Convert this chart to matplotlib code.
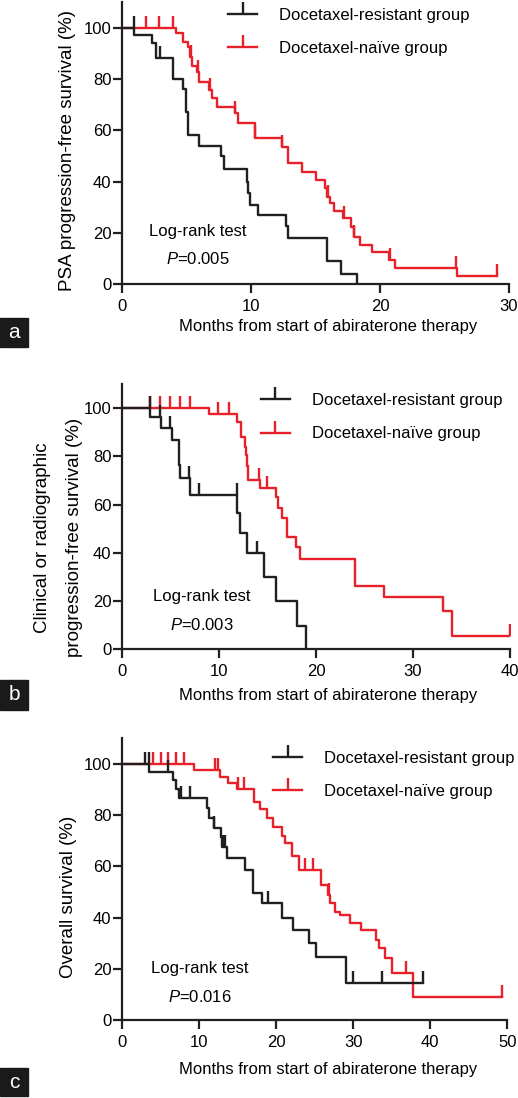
import numpy as np
import matplotlib.pyplot as plt
from matplotlib.lines import Line2D
from matplotlib.patches import Rectangle

plt.rcParams['font.family'] = ['Liberation Sans', 'DejaVu Sans']
plt.rcParams['mathtext.fontset'] = 'custom'
plt.rcParams['mathtext.it'] = 'Liberation Sans:italic'
plt.rcParams['mathtext.rm'] = 'Liberation Sans'

BLACK = '#231f20'
RED = '#e8202a'
FS = 12

# panel a: PSA progression-free survival
a_res_t = [0, 0.95, 2.3, 2.6, 3.95, 4.75, 4.95, 5.15, 6.0, 7.67, 7.9, 9.66, 9.75, 9.9, 10.57, 12.7, 12.9, 15.87, 16.95, 18.19]
a_res_s = [100, 97, 94, 88, 80, 76, 67, 58, 54, 50, 45, 40, 35.5, 31, 27, 22.5, 18, 9, 4, 0]
a_res_cens = [0.9, 2.95]
a_nai_t = [0, 4.2, 4.7, 5.15, 5.3, 5.45, 5.8, 6.0, 6.77, 7.0, 7.34, 8.76, 9.0, 10.31, 12.38, 12.9, 13.93, 15.04,
           15.74, 15.9, 16.12, 16.4, 17.15, 17.73, 18.0, 18.45, 19.35, 20.72, 21.16, 25.94, 29.04]
a_nai_s = [100, 97.8, 94.5, 92.6, 88.7, 85.2, 82.8, 78.9, 75.7, 72.4, 69.2, 66.6, 62.7, 56.8, 53.6, 47.1, 43.8, 40.6,
           37.3, 34.0, 31.5, 28.5, 25.6, 22.4, 18.5, 15.2, 12.6, 9.4, 6.1, 3.1, 3.1]
a_nai_cens = [1.9, 2.9, 3.93, 5.35, 5.9, 6.8, 8.8, 10.35, 12.4, 16.0, 17.2, 18.0, 20.75, 25.9, 29.04]

# panel b: clinical or radiographic progression-free survival
b_res_t = [0, 2.9, 4.0, 5.2, 5.9, 6.0, 7.0, 11.9, 12.2, 12.9, 14.6, 15.9, 18.0, 19.0]
b_res_s = [100, 96.5, 91.7, 86.8, 76.5, 70.9, 64.0, 56.4, 48.3, 40.0, 30.1, 20.1, 9.7, 0]
b_res_cens = [2.85, 3.95, 4.95, 6.95, 7.95, 11.85, 13.95]
b_nai_t = [0, 9.0, 11.9, 12.3, 12.7, 12.8, 12.9, 13.0, 14.2, 15.9, 16.1, 16.5, 17.0, 17.9, 18.4, 24.0, 27.0, 33.1, 34.0, 40.0]
b_nai_s = [100, 97.6, 94.5, 88.2, 84.0, 80.6, 76.0, 70.2, 66.8, 63.3, 58.4, 54.3, 46.7, 42.5, 37.3, 26.2, 21.5, 15.9, 5.4, 5.4]
b_nai_cens = [2.9, 3.9, 5.0, 6.0, 7.0, 9.9, 11.0, 14.15, 14.9, 40.0]

# panel c: overall survival
c_res_t = [0, 3.5, 6.6, 7.0, 7.4, 11.0, 11.3, 11.9, 12.8, 13.0, 13.6, 16.0, 17.0, 18.1, 20.7, 22.2, 24.3, 25.2, 29.1, 39.1]
c_res_s = [100, 96.7, 93.6, 90.0, 86.5, 82.6, 78.7, 75.0, 71.5, 67.6, 63.1, 58.5, 49.4, 45.5, 39.7, 35.1, 29.9, 24.7, 14.6, 14.6]
c_res_cens = [3.0, 3.45, 6.0, 7.7, 8.8, 12.0, 13.1, 13.4, 19.0, 30.0, 33.7, 39.1]
c_nai_t = [0, 9.4, 12.7, 13.8, 14.9, 17.1, 17.9, 18.8, 19.6, 20.7, 21.2, 22.1, 23.0, 25.8, 26.7, 27.0, 27.6, 28.3,
           29.6, 31.0, 33.0, 33.3, 34.1, 35.0, 37.8, 49.3]
c_nai_s = [100, 97.7, 94.9, 92.6, 90.0, 85.2, 82.2, 78.7, 75.5, 71.8, 69.2, 64.0, 58.5, 52.7, 48.8, 45.5, 42.3, 41.0,
           37.7, 35.1, 31.2, 28.0, 24.1, 18.2, 9.1, 9.1]
c_nai_cens = [4.0, 5.0, 6.0, 7.0, 8.0, 12.1, 12.5, 15.1, 15.8, 23.7, 24.8, 26.8, 36.9, 49.3]

groups = ['Docetaxel-resistant group', 'Docetaxel-na\u00efve group']
p_values = ['0.005', '0.003', '0.016']
xmax = [30, 40, 50]
ylabels = ['PSA progression-free survival (%)',
           'Clinical or radiographic\nprogression-free survival (%)',
           'Overall survival (%)']
letters = ['a', 'b', 'c']

LW = 1.7
MS = 8.5


def km(ax, t, s, cens, color):
    t = np.asarray(t)
    s = np.asarray(s)
    ax.step(t, s, where='post', color=color, lw=LW)
    c = np.asarray(cens)
    idx = np.searchsorted(t, c, side='right') - 1
    ax.plot(c, s[idx], ls='none', marker=2, ms=MS, mew=LW, color=color)


fig = plt.figure(figsize=(5.18, 10.98), dpi=100)

# axes boxes [left, bottom, width, height] in figure fraction
boxes = [[0.2355, 0.7413, 0.747, 0.2568],
         [0.2355, 0.4089, 0.749, 0.2412],
         [0.2355, 0.0710, 0.744, 0.2568]]
leg_pos = [(0.274, 0.895), (0.358, 0.875), (0.392, 0.870)]
ylab_pos = [(-0.14, 0.475), (-0.164, 0.42), (-0.14, 0.437)]
xlab_pos = [(0.532, -0.124), (0.532, -0.147), (0.536, -0.148)]
txt_pos = [(5.9, 20.4, 9.75), (8.2, 21.7, 10.0), (10.1, 20.2, 9.1)]
letter_box = [(318, 347), (680, 710), (1068, 1096)]

data = [(a_res_t, a_res_s, a_res_cens, a_nai_t, a_nai_s, a_nai_cens),
        (b_res_t, b_res_s, b_res_cens, b_nai_t, b_nai_s, b_nai_cens),
        (c_res_t, c_res_s, c_res_cens, c_nai_t, c_nai_s, c_nai_cens)]

for i in range(3):
    ax = fig.add_axes(boxes[i])
    rt, rs, rc, nt, ns, nc = data[i]
    km(ax, nt, ns, nc, RED)
    km(ax, rt, rs, rc, BLACK)

    ax.set_xlim(0, xmax[i])
    ax.set_ylim(0, 110)
    ax.set_xticks(np.arange(0, xmax[i] + 1, 10))
    ax.set_yticks(np.arange(0, 101, 20))
    for sp in ['top', 'right']:
        ax.spines[sp].set_visible(False)
    for sp in ['left', 'bottom']:
        ax.spines[sp].set_linewidth(1.6)
        ax.spines[sp].set_color(BLACK)
    ax.tick_params(axis='both', direction='out', length=6.5, width=1.6, labelsize=FS, color=BLACK)
    ax.tick_params(axis='y', pad=1)
    ax.tick_params(axis='x', pad=4)

    ax.set_xlabel('Months from start of abiraterone therapy', fontsize=FS)
    ax.xaxis.set_label_coords(*xlab_pos[i])
    ax.set_ylabel(ylabels[i], fontsize=13.5, linespacing=2.15)
    ax.yaxis.set_label_coords(*ylab_pos[i])
    ax.yaxis.label.set_va('center')

    tx, ty1, ty2 = txt_pos[i]
    ax.text(tx, ty1, 'Log-rank test', fontsize=FS, ha='center', va='center')
    ax.text(tx, ty2, '$P$=' + p_values[i], fontsize=FS, ha='center', va='center')

    handles = [Line2D([], [], color=BLACK, lw=LW, marker=2, ms=MS, mew=LW),
               Line2D([], [], color=RED, lw=LW, marker=2, ms=MS, mew=LW)]
    ax.legend(handles, groups, loc='center left', bbox_to_anchor=leg_pos[i], frameon=False,
              fontsize=FS, handlelength=1.75, handletextpad=1.3, labelspacing=1.1,
              borderpad=0, borderaxespad=0, numpoints=1)

    y0, y1 = letter_box[i]
    fig.patches.append(Rectangle((0, 1 - y1 / 1098), 28 / 518, (y1 - y0) / 1098,
                                 transform=fig.transFigure, color='#1a1a1a', zorder=5))
    fig.text(14 / 518, 1 - (y0 + y1) / 2 / 1098, letters[i], color='white', fontsize=15,
             ha='center', va='center', zorder=6)

fig.savefig('out.png', dpi=100)
